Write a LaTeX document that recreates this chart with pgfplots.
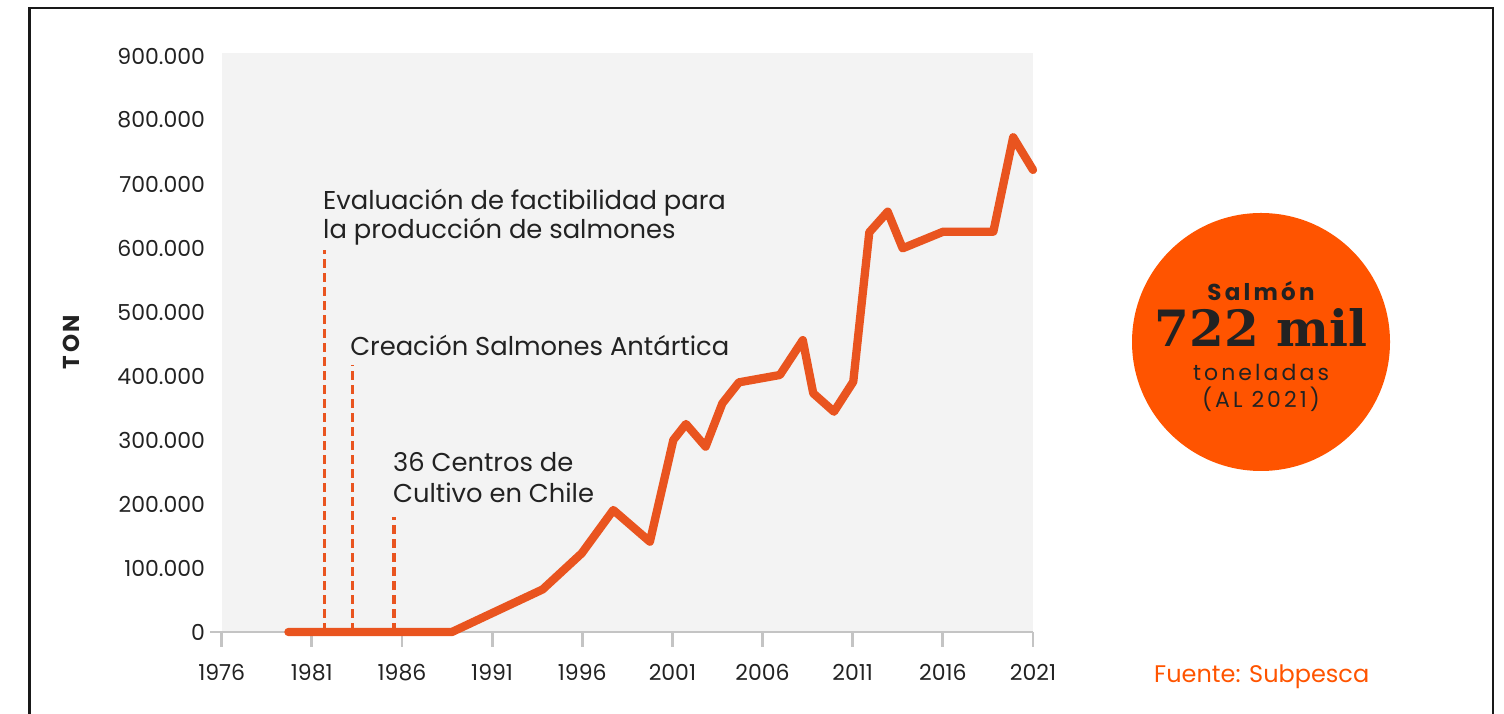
\documentclass[border=0pt]{standalone}
\usepackage{pgfplots}
\pgfplotsset{compat=1.18}
\usepackage{fontspec}
\setmainfont{Poppins}
\newfontfamily\bigserif{DejaVu Serif}
\newfontfamily\spaced[LetterSpace=14]{Poppins}
\definecolor{lineor}{HTML}{E9541F}
\definecolor{circor}{HTML}{FF5400}
\definecolor{bg}{HTML}{F3F3F3}
\definecolor{axg}{HTML}{C4C4C4}
\definecolor{txt}{HTML}{222222}
\begin{document}
\begin{tikzpicture}[x=1pt,y=1pt]
\begin{axis}[
  at={(221.7pt,82pt)}, anchor=south west,
  scale only axis, width=811.3pt, height=579pt,
  xmin=1976, xmax=2021, ymin=0, ymax=904700,
  clip=false,
  axis background/.style={fill=bg},
  axis x line*=bottom, axis y line*=left,
  x axis line style={draw=none}, y axis line style={draw=none},
  xtick={1976,1981,...,2021},
  ytick={0,100000,...,900000},
  scaled y ticks=false,
  /pgf/number format/assume math mode=true,
  xtick align=outside,
  major tick length=15pt,
  every tick/.style={draw=axg, line width=2.8pt},
  xtick style={draw=axg, line width=2.8pt},
  major tick style={draw=axg, line width=2.8pt},
  ytick style={draw=none},
  xticklabel style={font=\fontsize{22}{26}\selectfont, text=txt, anchor=base, inner sep=0pt, yshift=-34pt, /pgf/number format/1000 sep={}},
  yticklabel style={font=\fontsize{22}{26}\selectfont, text=txt, anchor=east, inner sep=0pt, xshift=-16.5pt, /pgf/number format/fixed, /pgf/number format/precision=0, /pgf/number format/1000 sep={.}},
]
\draw[axg, line width=2.8pt] ([xshift=-11.7pt]axis cs:1976,0) -- (axis cs:2021,0);
% dashed milestone lines
\addplot[lineor, line width=3.2pt, dash pattern=on 9pt off 5pt] coordinates {(1981.69,0) (1981.69,597000)};
\addplot[lineor, line width=3.2pt, dash pattern=on 9pt off 5pt] coordinates {(1983.24,0) (1983.24,417000)};
\addplot[lineor, line width=3.2pt, dash pattern=on 9pt off 5pt] coordinates {(1985.56,0) (1985.56,180000)};
% production
\addplot[lineor, line width=8.3pt, line join=round, line cap=round] coordinates {
(1979.7,0) (1988.77,0) (1993.8,66500) (1995.97,123000) (1997.72,190600)
(1999.75,141100) (2001.05,300000) (2001.75,325000) (2002.84,289600)
(2003.77,357300) (2004.69,390100) (2006.96,401600) (2008.23,456000)
(2008.81,373000) (2009.96,344200) (2011.03,391100) (2011.92,624500)
(2012.94,656700) (2013.77,599500) (2016.02,625500) (2018.80,625500)
(2019.9,773000) (2021.0,722000)};
\path[font=\fontsize{25.8}{30}\selectfont, text=txt, inner sep=0pt]
  (axis cs:1981.62,660900) node[anchor=base west] {Evaluación de factibilidad para}
  (axis cs:1981.62,614100) node[anchor=base west] {la producción de salmones}
  (axis cs:1983.12,432800) node[anchor=base west] {Creación Salmones Antártica}
  (axis cs:1985.50,250000) node[anchor=base west] {36 Centros de}
  (axis cs:1985.50,203100) node[anchor=base west] {Cultivo en Chile};
\end{axis}
\draw[black!90, line width=2.7pt] (29.7,-20) rectangle (1493,706);
\node[rotate=90, font=\fontsize{23}{26}\selectfont\bfseries, text=txt, inner sep=0pt] at (71.5,372) {\addfontfeatures{LetterSpace=12}TON};
\fill[circor] (1261,372) circle (129);
\node[anchor=base, inner sep=0pt, text=txt, font=\fontsize{23}{26}\selectfont\bfseries] at (1261,413) {\addfontfeatures{LetterSpace=14}Salmón};
\node[anchor=base, inner sep=0pt, text=txt, font=\fontsize{50}{56}\bigserif\bfseries] at (1261,367) {722 mil};
\node[anchor=base, inner sep=0pt, text=txt, font=\fontsize{22}{26}\spaced] at (1261,333) {toneladas};
\node[anchor=base, inner sep=0pt, text=txt, font=\fontsize{22}{26}\spaced] at (1261,306) {(AL 2021)};
\node[anchor=base west, inner sep=0pt, text=circor, font=\fontsize{24}{28}\selectfont] at (1154,31) {Fuente: Subpesca};
\pgfresetboundingbox
\useasboundingbox (0,0) rectangle (1504,714);
\end{tikzpicture}
\end{document}
